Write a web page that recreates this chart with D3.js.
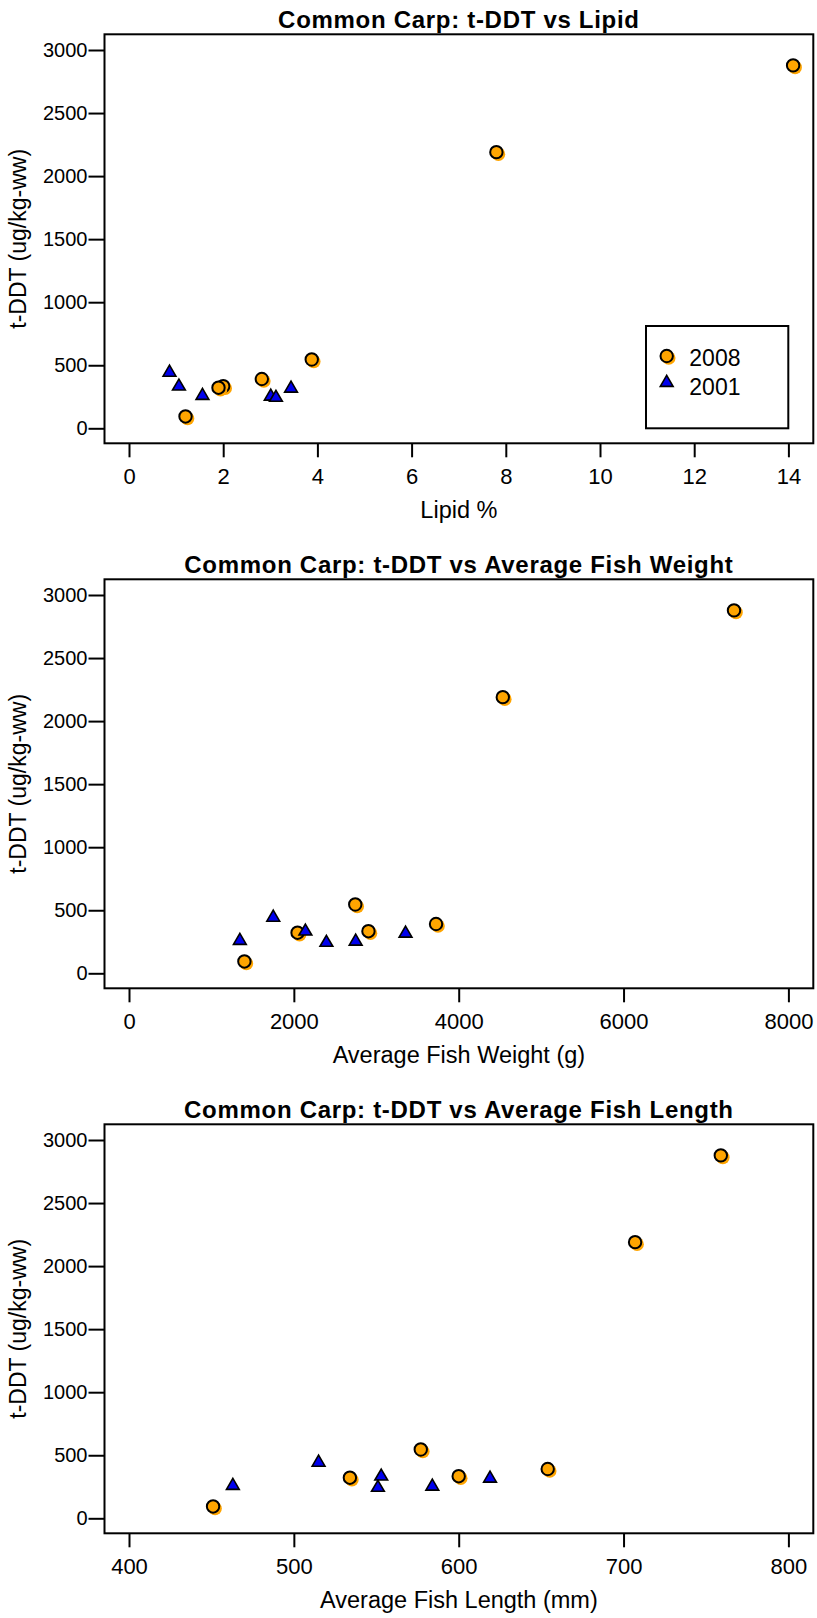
<!DOCTYPE html>
<html>
<head>
<meta charset="utf-8">
<script src="https://cdn.jsdelivr.net/npm/d3@7"></script>
<style>
  html, body { margin: 0; padding: 0; background: #ffffff; }
  svg { display: block; }
  text { font-family: "Liberation Sans", Arial, sans-serif; fill: #000; }
</style>
</head>
<body>
<svg id="chart" width="817" height="1618"></svg>
<script>
// t-DDT concentration (ug/kg wet weight) per composite sample
const tddt2008 = [2878, 2190, 546, 391, 334, 322, 94];
const tddt2001 = [456, 346, 330, 272, 266, 257];

// Lipid content (%)
const lipid2008 = [14.1, 7.8, 3.88, 2.82, 2.0, 1.9, 1.2];
const lipid2001 = [0.86, 1.06, 3.44, 1.56, 3.01, 3.12];

// Average fish weight (g)
const weight2008 = [7340, 4535, 2745, 3725, 2905, 2045, 1400];
const weight2001 = [1750, 2140, 3355, 1345, 2750, 2395];

// Average fish length (mm)
const length2008 = [759, 707, 577, 654, 600, 534, 451];
const length2001 = [515, 553, 619, 463, 584, 551];

// Axis ticks
const yTicks = [0, 500, 1000, 1500, 2000, 2500, 3000];
const lipidTicks = [0, 2, 4, 6, 8, 10, 12, 14];
const weightTicks = [0, 2000, 4000, 6000, 8000];
const lengthTicks = [400, 500, 600, 700, 800];

const seriesNames = ["2008", "2001"];
const yTitle = "t-DDT (ug/kg-ww)";

const panels = [
  { title: "Common Carp: t-DDT vs Lipid", xTitle: "Lipid %",
    x2008: lipid2008, x2001: lipid2001, ticks: lipidTicks, domain: [0, 14], legend: true },
  { title: "Common Carp: t-DDT vs Average Fish Weight", xTitle: "Average Fish Weight (g)",
    x2008: weight2008, x2001: weight2001, ticks: weightTicks, domain: [0, 8000], legend: false },
  { title: "Common Carp: t-DDT vs Average Fish Length", xTitle: "Average Fish Length (mm)",
    x2008: length2008, x2001: length2001, ticks: lengthTicks, domain: [400, 800], legend: false }
];

const ORANGE = "#FFA500";
const BLUE = "#0000EE";

const svg = d3.select("#chart");

// frame geometry shared by all three panels
const frameL = 104.5, frameR = 813.3, frameH = 409;
const xLo = 129, xHi = 788.4;
const panelStep = 545, firstTop = 34.3;

const triPath = "M0,-5.6L6.4,5.4L-6.4,5.4Z";

function drawCircle(g, cx, cy) {
  g.append("circle").attr("cx", cx + 2).attr("cy", cy + 2).attr("r", 6.8).attr("fill", ORANGE);
  g.append("circle").attr("cx", cx).attr("cy", cy).attr("r", 6.2)
    .attr("fill", ORANGE).attr("stroke", "#000").attr("stroke-width", 2);
}
function drawTriangle(g, cx, cy) {
  g.append("path").attr("d", triPath).attr("transform", `translate(${cx},${cy})`)
    .attr("fill", BLUE).attr("stroke", "#000").attr("stroke-width", 1.6)
    .attr("stroke-linejoin", "miter");
}

panels.forEach((p, i) => {
  const T = firstTop + i * panelStep;
  const g = svg.append("g");

  const x = d3.scaleLinear().domain(p.domain).range([xLo, xHi]);
  const y = d3.scaleLinear().domain([0, 3000]).range([T + 394, T + 15.7]);

  // title
  g.append("text")
    .attr("x", (frameL + frameR) / 2).attr("y", T - 6)
    .attr("text-anchor", "middle")
    .style("font-size", "24px").style("font-weight", "bold")
    .style("letter-spacing", "0.7px")
    .text(p.title);

  // y axis
  const yAxis = g.append("g").attr("transform", `translate(${frameL},0)`)
    .call(d3.axisLeft(y).tickValues(yTicks).tickSize(16).tickPadding(1).tickFormat(d3.format("d")));
  yAxis.select(".domain").remove();
  yAxis.selectAll(".tick line").attr("stroke", "#000").attr("stroke-width", 2);
  yAxis.selectAll(".tick text").style("font-size", "20px").attr("font-family", null);

  // x axis
  const xAxis = g.append("g").attr("transform", `translate(0,${T + frameH})`)
    .call(d3.axisBottom(x).tickValues(p.ticks).tickSize(14).tickPadding(11).tickFormat(d3.format("d")));
  xAxis.select(".domain").remove();
  xAxis.selectAll(".tick line").attr("stroke", "#000").attr("stroke-width", 2);
  xAxis.selectAll(".tick text").style("font-size", "22px").attr("font-family", null);

  // frame
  g.append("rect")
    .attr("x", frameL).attr("y", T)
    .attr("width", frameR - frameL).attr("height", frameH)
    .attr("fill", "none").attr("stroke", "#000").attr("stroke-width", 2);

  // axis titles
  g.append("text")
    .attr("x", (frameL + frameR) / 2).attr("y", T + 484)
    .attr("text-anchor", "middle").style("font-size", "23.5px")
    .text(p.xTitle);
  g.append("text")
    .attr("transform", `translate(26,${T + frameH / 2}) rotate(-90)`)
    .attr("text-anchor", "middle").style("font-size", "23px")
    .text(yTitle);

  // points: 2008 circles first, 2001 triangles on top
  const pts = g.append("g");
  p.x2008.forEach((v, k) => drawCircle(pts, x(v), y(tddt2008[k])));
  p.x2001.forEach((v, k) => drawTriangle(pts, x(v), y(tddt2001[k])));

  if (p.legend) {
    const lg = g.append("g");
    lg.append("rect").attr("x", 646).attr("y", T + 291.7)
      .attr("width", 142.3).attr("height", 102.3)
      .attr("fill", "#fff").attr("stroke", "#000").attr("stroke-width", 2);
    drawCircle(lg, 666.7, T + 321.7);
    drawTriangle(lg, 666.7, T + 346.7);
    lg.append("text").attr("x", 689.3).attr("y", T + 331.7).style("font-size", "23px").text(seriesNames[0]);
    lg.append("text").attr("x", 689.3).attr("y", T + 360.7).style("font-size", "23px").text(seriesNames[1]);
  }
});
</script>
</body>
</html>
